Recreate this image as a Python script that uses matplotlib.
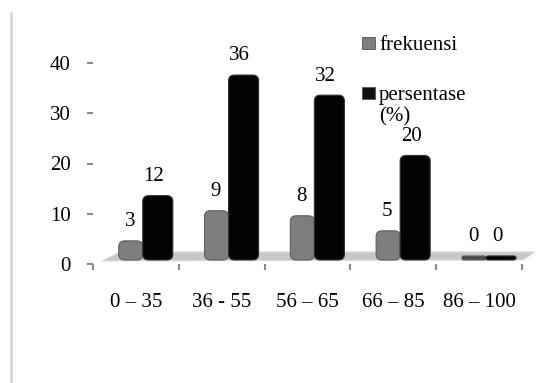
import numpy as np
import matplotlib.pyplot as plt
from matplotlib.patches import FancyBboxPatch, Polygon, Rectangle
from matplotlib.lines import Line2D

plt.rcParams['font.family'] = ['Liberation Serif', 'DejaVu Serif']

# ----------------------------
# Data
# ----------------------------
categories = ["0 – 35", "36 - 55", "56 – 65", "66 – 85", "86 – 100"]
frekuensi = [3, 9, 8, 5, 0]
persentase = [12, 36, 32, 20, 0]

W, H = 560, 383
FS = 15

# ----------------------------
# Figure
# ----------------------------
fig = plt.figure(figsize=(W/100, H/100), dpi=100)
ax = fig.add_axes([93/W, 1 - 264/H, 429/W, 201/H])
ax.set_xlim(-0.5, len(categories) - 0.5)
ax.set_ylim(0, 40)

# floor of the pseudo-3D chart
floor = Polygon([(-0.395, 0.6), (4.51, 0.8), (4.65, 2.4), (-0.185, 2.4)],
                closed=True, facecolor="#c8c8c8", edgecolor="#dcdcdc",
                lw=0.8, zorder=1, clip_on=False)
ax.add_patch(floor)

base = 0.8    # bars stand on the floor
depth = 0.8   # extra height of the bevelled top face
aspect = 16   # y-units per x-unit on screen (for round corners)

def rounded_bar(x0, w, h, color, edge):
    r = min(0.07, h / aspect / 2)
    p = FancyBboxPatch((x0, base), w, h,
                       boxstyle=f"round,pad=0,rounding_size={r}",
                       mutation_aspect=aspect, facecolor=color,
                       edgecolor=edge, linewidth=0.8, zorder=3, clip_on=False)
    ax.add_patch(p)

x = np.arange(len(categories))
for i in x:
    rounded_bar(i - 0.2, 0.28, frekuensi[i] + depth,
                "#7e7e7e" if frekuensi[i] else "#4a4a4a", "#5e5e5e")
    rounded_bar(i + 0.08, 0.35, persentase[i] + depth, "#030303", "#303030")
    ax.text(i - 0.07, frekuensi[i] + 5.4, str(frekuensi[i]),
            ha="center", va="center", fontsize=FS)
    ax.text(i + 0.21, persentase[i] + 5.4, str(persentase[i]),
            ha="center", va="center", fontsize=FS)

# axes styling
for s in ax.spines.values():
    s.set_visible(False)
ax.set_yticks([0, 10, 20, 30, 40])
ax.tick_params(axis="y", length=4, width=1.5, color="#8a8a8a", pad=12,
               labelsize=FS)
ax.set_xticks(x)
ax.set_xticklabels(categories)
ax.tick_params(axis="x", length=0, pad=21, labelsize=FS)
ax.set_xticks(np.arange(-0.5, len(categories)), minor=True)
ax.tick_params(axis="x", which="minor", length=4.5, width=1.5, color="#8a8a8a")

# legend (placed by hand to mimic the spreadsheet layout)
leg_colors = ["#7e7e7e", "#101010"]
leg_labels = ["frekuensi", "persentase\n(%)"]
leg_box_y = [37, 87]
leg_text_y = [45, 106]
for c, lab, by, ty in zip(leg_colors, leg_labels, leg_box_y, leg_text_y):
    fig.add_artist(Rectangle((362/W, 1 - (by + 12)/H), 13/W, 12/H,
                             transform=fig.transFigure, facecolor=c,
                             edgecolor="#555555", lw=0.6))
    fig.text(379/W, 1 - ty/H, lab, ha="left", va="center",
             fontsize=FS, linespacing=1.15)

# chart frame edge on the left
fig.add_artist(Line2D([11/W, 11/W], [0, 1 - 13/H],
                      transform=fig.transFigure, color="#d4d4d4", lw=1.8))

plt.savefig("out.png", dpi=100)
